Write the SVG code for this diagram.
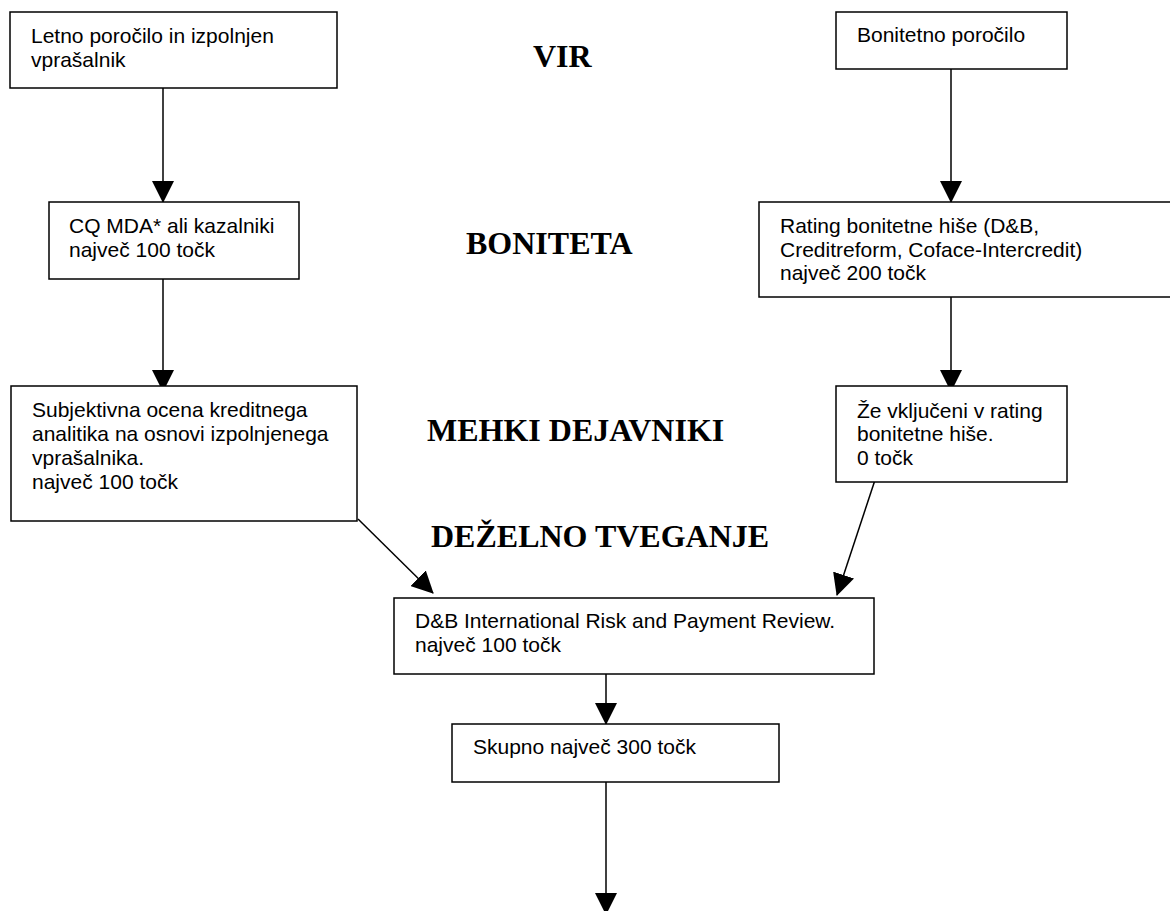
<svg xmlns="http://www.w3.org/2000/svg" width="1170" height="911" viewBox="0 0 1170 911">
<style>
.box{fill:#fff;stroke:#000;stroke-width:1.5}
.t{font-family:"Liberation Sans",Arial,sans-serif;font-size:21px;fill:#000}
.h{font-family:"Liberation Serif","Times New Roman",serif;font-size:32px;font-weight:bold;fill:#000}
.c{stroke:#000;stroke-width:1.5;fill:none;marker-end:url(#arr)}
</style>
<defs>
<marker id="arr" markerUnits="userSpaceOnUse" markerWidth="22" markerHeight="22" refX="21" refY="11" orient="auto" viewBox="0 0 22 22">
<path d="M0,0 L22,11 L0,22 Z" fill="#000"/>
</marker>
</defs>
<rect width="1170" height="911" fill="#fff"/>
<g id="connectors">
<line class="c" x1="163" y1="88" x2="163" y2="202"/>
<line class="c" x1="163" y1="279" x2="163" y2="391"/>
<line class="c" x1="951" y1="69" x2="951" y2="202"/>
<line class="c" x1="951" y1="297" x2="951" y2="391"/>
<line class="c" x1="358" y1="519" x2="433" y2="593"/>
<line class="c" x1="875" y1="480" x2="837" y2="595"/>
<line class="c" x1="606" y1="674" x2="606" y2="724"/>
<line class="c" x1="606" y1="782" x2="606" y2="914"/>
</g>
<g id="letno">
<rect class="box" x="10" y="12" width="327" height="76"/>
<text class="t" x="31" y="43">Letno poročilo in izpolnjen</text>
<text class="t" x="31" y="67">vprašalnik</text>
</g>
<g id="bonitetno">
<rect class="box" x="836" y="12" width="231" height="57"/>
<text class="t" x="857" y="42">Bonitetno poročilo</text>
</g>
<g id="cq">
<rect class="box" x="49" y="202" width="250" height="77"/>
<text class="t" x="69" y="233">CQ MDA* ali kazalniki</text>
<text class="t" x="69" y="257">največ 100 točk</text>
</g>
<g id="rating">
<rect class="box" x="759" y="202" width="420" height="95"/>
<text class="t" x="780" y="233">Rating bonitetne hiše (D&amp;B,</text>
<text class="t" x="780" y="257">Creditreform, Coface-Intercredit)</text>
<text class="t" x="780" y="280">največ 200 točk</text>
</g>
<g id="subjektivna">
<rect class="box" x="11" y="386" width="346" height="135"/>
<text class="t" x="32" y="417">Subjektivna ocena kreditnega</text>
<text class="t" x="32" y="441">analitika na osnovi izpolnjenega</text>
<text class="t" x="32" y="465">vprašalnika.</text>
<text class="t" x="32" y="489">največ 100 točk</text>
</g>
<g id="ze">
<rect class="box" x="836" y="386" width="231" height="96"/>
<text class="t" x="857" y="418">Že vključeni v rating</text>
<text class="t" x="857" y="441">bonitetne hiše.</text>
<text class="t" x="857" y="465">0 točk</text>
</g>
<g id="db">
<rect class="box" x="394" y="598" width="480" height="76"/>
<text class="t" x="415" y="628">D&amp;B International Risk and Payment Review.</text>
<text class="t" x="415" y="652">največ 100 točk</text>
</g>
<g id="skupno">
<rect class="box" x="452" y="724" width="327" height="58"/>
<text class="t" x="473" y="754">Skupno največ 300 točk</text>
</g>
<g id="headings">
<text class="h" x="533" y="67">VIR</text>
<text class="h" x="466" y="254">BONITETA</text>
<text class="h" x="427" y="441">MEHKI DEJAVNIKI</text>
<text class="h" x="431" y="547">DEŽELNO TVEGANJE</text>
</g>
</svg>
